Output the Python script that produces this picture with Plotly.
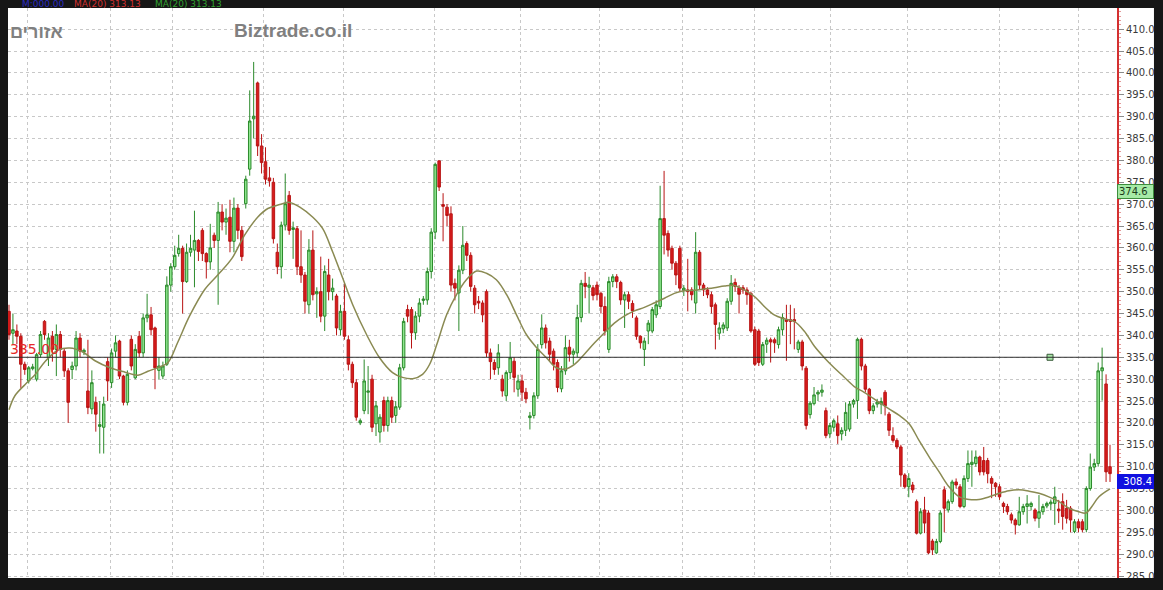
import plotly.graph_objects as go

# ---------------- data ----------------
opens = [345.5, 340.5, 341, 339.8, 333.4, 329.6, 332.4, 330, 335.6, 343.2,
         334.9, 339.8, 336.8, 340.2, 336.4, 331.9, 332.2, 333, 339.4, 336.2,
         327.3, 323.2, 324.7, 319.2, 319, 334, 329.2, 336.4, 338.7, 330.7,
         324.7, 339.1, 330.3, 339.8, 336, 344, 344.7, 341.7, 332, 330.7,
         333.4, 351.5, 355.7, 358.7, 359.9, 352.3, 359, 359.5, 361.7, 364,
         358.7, 356.8, 362.9, 361.7, 368.2, 365.9, 367, 361.5, 369.1, 364,
         370.1, 378, 389.5, 397.7, 383.3, 379.7, 376, 375, 359, 355.7,
         365.2, 372, 364.2, 364.4, 355.7, 353.8, 347, 359.5, 349.5, 350,
         344.4, 353.8, 350, 349, 341.3, 345.5, 339, 333.4, 329.2, 320,
         322.8, 327, 330, 319.8, 317.9, 325.1, 319.4, 325.1, 321.7, 323.6,
         332.6, 345.9, 345.9, 340.6, 344.4, 348, 348.1, 354.6, 363.6, 379.9,
         369.9, 369.3, 367.8, 351.9, 349.7, 354.9, 361, 358.3, 350.8, 347.8,
         347.4, 350, 336, 333.8, 332.6, 330, 326.2, 331.5, 334.1, 327.7,
         329.6, 327, 321.2, 321.7, 326.2, 337.9, 341.7, 338.7, 336.4, 333.8,
         327.8, 331.9, 337.3, 335.7, 336, 344.1, 351.9, 351, 350.9, 351.5,
         349.6, 346.6, 336.8, 352.3, 353.4, 352.1, 348.1, 349.3, 347.3, 344,
         339.8, 336.8, 341, 341, 344.7, 346.6, 366.7, 363.3, 359.9, 356.5,
         359.9, 350.3, 350.4, 350.4, 347.4, 359, 351.5, 350.4, 349.3, 347,
         340.5, 341.5, 341.7, 347.8, 352.1, 350.9, 350.9, 350.4, 349.6, 341.3,
         341, 333.4, 338, 339, 339, 337.9, 341.3, 343.6, 343.6, 343.6,
         336.8, 338.5, 332.5, 321.9, 324.4, 326.6, 327, 322.8, 317.5, 319,
         319.8, 317.5, 318.3, 318.6, 324.3, 325.1, 339.1, 333, 327.7, 322.8,
         324.3, 324.3, 327, 322, 317.1, 316, 314.5, 308.1, 305.4, 305.8,
         302, 294.8, 300.1, 299.4, 293, 290.3, 292.9, 304.7, 300.1, 302,
         306.5, 305.4, 300.9, 307.3, 310.5, 310.7, 312.2, 311.4, 311.4, 307.3,
         306.2, 305.4, 301.6, 300.9, 299, 297.8, 296.7, 299.7, 300.9, 300.9,
         300.1, 298.2, 299.7, 301, 301.5, 301.6, 300.3, 302, 300.5, 300.5,
         295.2, 297.4, 297.4, 295.6, 305, 309.9, 310.7, 331.9, 328.9, 310]
highs = [347, 345, 342.5, 340.5, 334, 333, 333.5, 336, 341, 343.5,
         340.5, 341, 342.5, 341, 337, 332.5, 334, 341, 340.5, 337,
         339, 332, 326, 325, 326, 335, 337, 340, 339, 331,
         332, 340, 338, 341, 345, 349.5, 346.5, 342, 335, 334,
         353.5, 356.5, 360.5, 363, 360.5, 361, 363, 368.5, 362, 364.5,
         359, 365.5, 363.5, 370.5, 370, 369, 371, 371.5, 370, 365,
         376.5, 396, 402.5, 398, 386, 383, 378.5, 376, 361, 366,
         377, 373, 366, 365, 364, 354.5, 362, 364, 351, 358,
         356, 357.5, 353, 349.5, 347, 352, 340, 334, 330, 321,
         334.5, 333, 331, 325, 322, 326, 326, 326, 325, 333.5,
         344, 347, 346.5, 345.5, 348.5, 349, 355.5, 364.5, 379.5, 380,
         372.5, 370, 369.5, 353, 356, 365, 361.5, 359, 351.5, 349,
         348, 350.5, 337, 334.5, 338, 331, 332, 338.5, 335, 331,
         331, 328, 322.5, 327, 338, 344.8, 342.5, 339.5, 337, 334.5,
         333, 340, 339, 337, 347, 352.7, 354.5, 353.4, 351.5, 352.3,
         350, 348.9, 353.4, 354, 354, 352.5, 350, 350, 348, 344.5,
         340, 339.5, 343.5, 346.5, 348, 374.2, 377.6, 364, 360.5, 357,
         360.5, 351.5, 357.5, 351, 363.6, 359.5, 352, 351, 350, 347.5,
         343, 343, 348.5, 353.8, 353, 351.5, 351.5, 351, 350, 342,
         341.5, 338.5, 339.5, 339.5, 339.5, 342, 345, 347, 347, 346.2,
         339, 339, 333, 325, 328.2, 327.5, 328.8, 323.5, 320, 321,
         321.7, 319, 324.7, 325, 325.5, 339.5, 339.5, 333.5, 328, 324.5,
         325.5, 325.8, 327.5, 322.5, 319, 316.5, 315, 308.5, 308.5, 306.5,
         302.5, 300.5, 303.1, 300, 293.5, 293.5, 300, 305.5, 302.5, 307,
         307.3, 306, 308, 313.7, 313.7, 313.7, 312.5, 314.5, 312, 307.8,
         306.5, 306, 302, 301.5, 299.5, 298.2, 303.1, 301.5, 303.5, 302,
         300.5, 303.5, 301.5, 302, 302.5, 305.4, 302.4, 303.9, 302.4, 301,
         298, 298, 298, 305.5, 313, 311.8, 333.8, 337.2, 331.1, 315]
lows = [339, 338, 338, 328, 331, 329, 332, 329.5, 335, 339,
        333, 334, 330.7, 335, 330.5, 320, 330, 332, 335, 335.5,
        322, 322, 318, 313, 313, 325, 328, 335, 330, 324,
        324, 332, 330, 335, 335, 343, 340, 327.7, 330, 330,
        333, 350, 355, 358, 345, 352, 358, 351, 357, 357,
        353, 355, 360, 347, 364, 363, 359, 359, 362, 357,
        369, 376.5, 385, 381, 377, 374.5, 374, 361, 354, 353,
        364, 363, 357.5, 353.8, 352, 345, 345, 348, 344, 343,
        341, 348, 348, 340, 340, 339, 332, 328, 320.5, 319.5,
        322, 322, 317.9, 317, 315.5, 318, 318, 320, 320, 323,
        332, 343, 337, 339, 343, 347, 347, 353, 362, 373,
        361.5, 365, 350, 348, 341, 354, 357, 350, 345, 346,
        343, 335, 330, 331, 331, 326, 325, 330, 327, 326,
        325, 324.5, 318.5, 321, 325.5, 337, 337, 334, 332, 327,
        327, 331, 334, 333.4, 335, 343, 348.5, 345, 348, 348,
        345, 340, 336, 351, 350.8, 347, 341.7, 346, 344, 339,
        337, 333, 338, 340.5, 344, 346, 358.5, 358, 355, 351.5,
        350, 349, 345.5, 348, 345, 350.5, 349, 348.5, 345, 336.8,
        339, 340.5, 341, 347, 350, 345, 349.5, 347, 340.6, 333,
        333, 333, 336, 333.8, 336, 337, 340, 334.2, 338, 336.8,
        336, 332, 318.5, 321, 324, 325, 326, 316.5, 316.5, 318,
        315.2, 316, 317, 318, 323.5, 320.9, 332, 327, 322, 322,
        323.5, 322, 321.7, 317, 315.5, 314, 305.4, 305, 303, 304,
        294.5, 294.5, 294.8, 290, 289.8, 290, 292.5, 295, 299.5, 301.5,
        305, 300.5, 300.5, 306.5, 305.4, 310, 308, 308, 306.2, 302.8,
        303.1, 302.4, 299.4, 299, 297, 294.5, 296.5, 299, 297, 300,
        297.5, 296, 299, 300.5, 300, 296.7, 297.1, 295.6, 297, 295,
        294.8, 295, 295, 295, 304.5, 309, 310, 325.1, 306.5, 306.5]
closes = [340.2, 341.3, 339.8, 333.4, 332.2, 332.6, 332.8, 335.6, 340.2, 340.2,
          339.4, 336.8, 340.2, 336.8, 331.9, 324.7, 333, 339.4, 336.4, 336.6,
          323.5, 329.2, 322, 319.6, 324.3, 329.6, 336, 338.3, 330.7, 324.7,
          331.1, 333, 336.8, 336, 344, 344.7, 341.3, 332.6, 333, 333,
          351.5, 355.7, 358.3, 359.9, 352.3, 359, 359.9, 361.7, 359.2, 358.7,
          356.8, 360, 361.7, 368.2, 365.9, 366.8, 361.5, 369.1, 364, 358,
          375.7, 389, 390.1, 383.3, 379.5, 375.7, 375.3, 362.1, 355.7, 365.2,
          370.1, 364, 364.6, 355.7, 353.8, 347.8, 359.5, 349.3, 350, 344.4,
          354.6, 350, 350.8, 341.7, 345.5, 339.8, 333.4, 329.2, 321.3, 320.5,
          329.6, 327.3, 319, 323.9, 321.3, 319.4, 325.1, 321.3, 323.7, 332.6,
          343.2, 344.4, 340.6, 344.4, 347.4, 348.3, 354.6, 363.6, 379.1, 373.9,
          369.5, 367.4, 351.5, 350.8, 354.9, 360.6, 358.3, 351.2, 347, 347.4,
          344.7, 336, 334, 332.2, 336, 327.3, 331.5, 334.9, 330.4, 329.6,
          327, 325.5, 321.6, 326.2, 336.8, 341.7, 338.3, 335.7, 333.4, 328.1,
          331.9, 337.2, 335.7, 336.4, 344.1, 351.9, 351.2, 351.5, 349.1, 349.3,
          346.6, 341, 352.3, 353.4, 352.3, 348.1, 349.3, 347.8, 345.6, 339.8,
          338.3, 338.7, 342.8, 345.9, 347, 366.7, 362.9, 359.5, 356.5, 353.8,
          350.8, 350.8, 350, 349.3, 359, 351.5, 350.4, 349.3, 346.6, 342.5,
          341.7, 342.4, 347.8, 351.9, 351.2, 349.4, 350.4, 349.3, 341, 333.4,
          333.8, 337.9, 338.9, 338.5, 338.3, 341.3, 344.1, 343.2, 343.2, 343.2,
          338.5, 333, 319.4, 324.5, 326.4, 327, 327.5, 317.1, 319.4, 320.5,
          317.1, 318.3, 322.4, 324.3, 325.1, 339.1, 333, 327.7, 322.8, 323.9,
          324.8, 324.9, 323.9, 318.3, 316, 314.5, 308.1, 305.4, 307.3, 304.7,
          294.8, 299.7, 297.1, 290.3, 291, 292.9, 299.4, 300.5, 302, 306.5,
          305.8, 300.9, 307.3, 310.7, 311, 312.2, 308.8, 308.8, 308.4, 306.2,
          305.4, 303.1, 300.9, 299.7, 297.8, 296.7, 299.7, 300.9, 301.5, 301.6,
          298.2, 299.7, 300.9, 301.6, 301.9, 303.1, 299.9, 298.6, 298.2, 297.8,
          297.4, 296, 295.6, 305, 309.9, 310.7, 331.9, 332.6, 308.8, 308.4]

# moving average line, read at sample points (candle index, value)
ma_idx = [0, 1.5, 4.1, 6.6, 9.1, 12.4, 15.4, 18.7, 21.8, 25.6,
          29.4, 32.7, 35.2, 38.2, 40.3, 42.8, 45.8, 49.6, 52.9, 56.5,
          59.7, 63.0, 65.6, 68.6, 71.1, 73.7, 77.0, 79.5, 82.0, 84.6,
          87.1, 90.6, 93.9, 97.2, 99.7, 102.3, 104.8, 106.6, 108.4, 110.9,
          113.4, 115.9, 118.5, 121.0, 123.5, 126.1, 128.6, 131.1, 133.7, 136.2,
          138.7, 140.8, 143.3, 145.8, 148.4, 150.9, 153.4, 155.9, 158.5, 161.0,
          163.5, 166.1, 168.6, 171.1, 173.7, 176.2, 178.7, 181.3, 183.8, 186.3,
          188.9, 191.4, 193.9, 196.5, 199.0, 201.5, 204.1, 206.6, 209.1, 211.6,
          214.2, 216.7, 220.5, 223.0, 225.6, 228.1, 230.6, 233.2, 235.7, 238.2,
          240.8, 243.3, 245.8, 248.4, 250.9, 253.4, 255.9, 258.5, 261.0, 263.5,
          266.1, 268.6, 271.1, 272.9, 274.4, 276.2, 279.0]
ma_val = [323.0, 326.2, 328.8, 331.0, 334.0, 336.6, 337.1, 336.2, 334.2, 332.6,
          331.6, 330.9, 331.8, 332.8, 333.8, 338.5, 344.5, 350.5, 353.8, 357.6,
          362.9, 367.0, 369.0, 369.9, 370.4, 369.3, 367.0, 364.4, 359.1, 353.0,
          347.0, 340.2, 334.9, 331.5, 330.4, 330.1, 331.1, 333.4, 337.9, 344.7,
          349.3, 352.7, 354.7, 354.2, 352.7, 349.3, 344.7, 340.2, 337.2, 334.9,
          332.6, 332.3, 333.4, 335.7, 338.3, 340.6, 342.8, 344.4, 345.6, 346.4,
          347.4, 348.5, 349.6, 350.2, 350.3, 350.6, 350.9, 351.3, 351.4, 350.4,
          348.9, 346.6, 344.7, 343.8, 343.2, 341.0, 337.5, 334.9, 332.6, 330.5,
          328.3, 327.0, 324.7, 323.2, 321.7, 319.8, 316.0, 312.2, 308.8, 305.4,
          303.1, 302.5, 302.5, 303.1, 303.9, 304.5, 304.7, 304.4, 303.9, 303.1,
          302.0, 300.5, 299.7, 299.4, 300.9, 303.1, 304.9]

month_grid_idx = [4.8, 25.6, 41.5, 64.6, 84.8, 107.8, 129.6, 149.6, 170.6,
                  188.9, 208.1, 227.8, 250.9, 270.9]
ref_level = 335.0
ref_marker_idx = 263.8
ref_label = "335.00"
box_top_value, box_top_text = 374.6, "374.6"
box_last_value, box_last_text = 308.4, "308.4"
legend_texts = ["M:000.00", "MA(20) 313.13", "MA(20) 313.13"]
title_he = "אזורים"
title_site = "Biztrade.co.il"

# ---------------- figure ----------------
W, H = 1163, 590
ML, MR, MT, MB = 8, 45, 8, 8
PW, PH = W - ML - MR, H - MT - MB

idx = list(range(len(closes)))

fig = go.Figure()
fig.add_trace(go.Candlestick(
    x=idx, open=opens, high=highs, low=lows, close=closes,
    increasing=dict(line=dict(color="#2b8a2b", width=1), fillcolor="#8fe68f"),
    decreasing=dict(line=dict(color="#b81414", width=1), fillcolor="#d81c1c"),
    whiskerwidth=0, hoverinfo="skip", showlegend=False,
))
fig.add_trace(go.Scatter(
    x=ma_idx, y=ma_val, mode="lines", line=dict(color="#8a8a52", width=1.5, shape="spline"),
    hoverinfo="skip", showlegend=False,
))
fig.add_trace(go.Scatter(
    x=[ref_marker_idx], y=[ref_level], mode="markers",
    marker=dict(symbol="square", size=6, color="#a8e6a8", line=dict(color="#3a5a3a", width=1)),
    hoverinfo="skip", showlegend=False,
))

shapes = [
    # white chart panel incl. price-label column
    dict(type="rect", xref="paper", yref="paper", x0=0, x1=(1155 - ML) / PW, y0=0, y1=1,
         fillcolor="white", line=dict(width=0), layer="below"),
    # reference horizontal line
    dict(type="line", xref="paper", yref="y", x0=0, x1=1, y0=ref_level, y1=ref_level,
         line=dict(color="#303030", width=1), layer="above"),
    # bottom black band (clips labels)
    dict(type="rect", xref="paper", yref="paper", x0=-0.01, x1=1.01 + MR / PW, y0=-MB / PH - 0.01, y1=0,
         fillcolor="#161616", line=dict(width=0), layer="above"),
]

annotations = [
    dict(xref="paper", yref="y", x=0, y=ref_level, xanchor="left", yanchor="bottom",
         text=ref_label, showarrow=False, font=dict(family="DejaVu Sans", size=14, color="#e62a2a"),
         yshift=-2),
    dict(xref="paper", yref="paper", x=0, y=1 - (32 - MT) / PH, xanchor="left", yanchor="middle",
         text="<b>" + title_he + "</b>", showarrow=False,
         font=dict(family="Liberation Sans", size=18, color="#808080")),
    dict(xref="paper", yref="paper", x=(232 - ML) / PW, y=1 - (31 - MT) / PH, xanchor="left", yanchor="middle",
         text="<b>" + title_site + "</b>", showarrow=False,
         font=dict(family="Liberation Sans", size=19, color="#808080")),
    dict(xref="paper", yref="y", x=1, y=box_top_value, xanchor="left", yanchor="top",
         text=box_top_text, showarrow=False, width=33, height=11, align="left",
         bgcolor="#a6eaa6", bordercolor="#3c8c3c", borderwidth=1, borderpad=1,
         font=dict(family="DejaVu Sans", size=10, color="#1a3a1a")),
    dict(xref="paper", yref="y", x=1, y=box_last_value, xanchor="left", yanchor="top",
         text=box_last_text, showarrow=False, width=33, height=11, align="right",
         bgcolor="#1010e0", bordercolor="#1010e0", borderwidth=1, borderpad=1,
         font=dict(family="DejaVu Sans", size=10, color="white")),
]
leg_x = [20, 72, 153]
leg_c = ["#2a2ac0", "#d03030", "#30a030"]
for t, px, c in zip(legend_texts, leg_x, leg_c):
    annotations.append(dict(xref="paper", yref="paper", x=(px - ML) / PW, y=1 + (MT - 4) / PH,
                            xanchor="left", yanchor="middle", text=t, showarrow=False,
                            font=dict(family="DejaVu Sans", size=9, color=c)))

fig.update_layout(
    width=W, height=H, autosize=False,
    margin=dict(l=ML, r=MR, t=MT, b=MB, pad=0),
    paper_bgcolor="#161616", plot_bgcolor="white",
    shapes=shapes, annotations=annotations,
    hovermode=False, showlegend=False, boxgap=0.1,
    xaxis=dict(range=[-0.25, 280.77], rangeslider=dict(visible=False),
               tickmode="array", tickvals=month_grid_idx, showticklabels=False, ticks="",
               showgrid=True, gridcolor="#c8c8c8", griddash="dot", gridwidth=1,
               zeroline=False, showline=False, fixedrange=True),
    yaxis=dict(range=[284.55, 414.83], side="right", dtick=5, tick0=285, tickformat=".1f",
               showgrid=True, gridcolor="#c8c8c8", griddash="dot", gridwidth=1,
               ticks="outside", ticklen=5, tickcolor="#8a8a8a", tickwidth=1,
               tickfont=dict(family="DejaVu Sans", size=10, color="#3a3a3a"),
               showline=True, linecolor="#d43030", linewidth=2, mirror=False,
               minor=dict(dtick=1, ticks="outside", ticklen=2, tickcolor="#e39a9a", showgrid=False),
               zeroline=False, fixedrange=True),
)

fig.write_html("out.html", config={"displayModeBar": False, "staticPlot": True},
               post_script="document.body.style.margin='0';document.body.style.background='#161616';")
